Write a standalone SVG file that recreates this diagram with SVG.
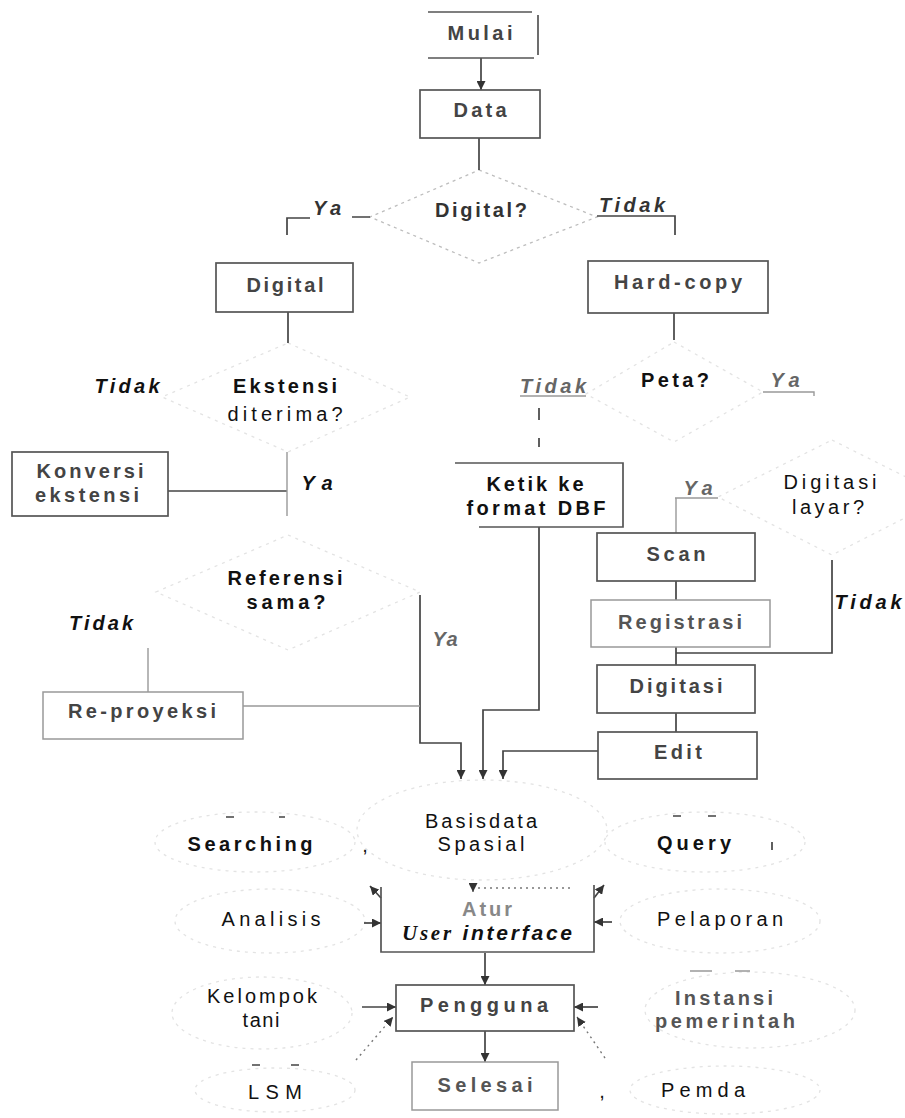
<svg xmlns="http://www.w3.org/2000/svg" width="905" height="1118" viewBox="0 0 905 1118">
<defs>
<style>
.box{fill:none;stroke:#555;stroke-width:1.7}
.boxl{fill:none;stroke:#999;stroke-width:1.5}
.ln{fill:none;stroke:#444;stroke-width:1.7}
.lnl{fill:none;stroke:#999;stroke-width:1.4}
.faint{fill:none;stroke:#e3e3e3;stroke-width:1.3;stroke-dasharray:3 5}
.faintd{fill:none;stroke:#bdbdbd;stroke-width:1.3;stroke-dasharray:3 4}
.dot{fill:none;stroke:#777;stroke-width:1.4;stroke-dasharray:2 4}
.t{font-family:"Liberation Sans",Arial,Helvetica,sans-serif;font-size:20px;text-anchor:middle}
.bx{font-weight:bold;fill:#444}
.lb{fill:#111}
.b{font-weight:bold;fill:#111}
.i{font-style:italic;font-weight:bold;fill:#111}
.ig{font-style:italic;font-weight:bold;fill:#666}
</style>
<marker id="arr" viewBox="0 0 10 10" refX="10" refY="5" markerWidth="9" markerHeight="9" markerUnits="userSpaceOnUse" orient="auto">
<path d="M0,0 L10,5 L0,10 z" fill="#333"/>
</marker>
</defs>
<rect width="905" height="1118" fill="#fff"/>

<g id="faint-shapes">
<polygon class="faintd" points="479,170 597,217 479,263 370,217"/>
<polygon class="faint" points="288,343 410,397 288,452 162,397"/>
<polygon class="faint" points="674,342 763,392 674,442 586,394"/>
<polygon class="faint" points="832,440 946,497 832,555 718,497"/>
<polygon class="faint" points="288,535 420,592 288,650 156,592"/>
<ellipse class="faint" cx="482" cy="830" rx="125" ry="50"/>
<ellipse class="faint" cx="255" cy="842" rx="100" ry="30"/>
<ellipse class="faint" cx="705" cy="842" rx="100" ry="30"/>
<ellipse class="faint" cx="270" cy="921" rx="95" ry="32"/>
<ellipse class="faint" cx="720" cy="921" rx="100" ry="32"/>
<ellipse class="faint" cx="262" cy="1013" rx="90" ry="36"/>
<ellipse class="faint" cx="750" cy="1010" rx="105" ry="38"/>
<ellipse class="faint" cx="275" cy="1090" rx="80" ry="22"/>
<ellipse class="faint" cx="725" cy="1090" rx="95" ry="24"/>
</g>

<g id="connectors">
<line class="ln" x1="481" y1="58" x2="481" y2="90" marker-end="url(#arr)"/>
<line class="ln" x1="479" y1="138" x2="479" y2="170"/>
<path class="ln" d="M287,235 V218 H310 M352,217 H370"/>
<path class="ln" d="M597,216 H675 V235"/>
<line class="ln" x1="288" y1="312" x2="288" y2="343"/>
<path class="ln" d="M168,491 H287"/>
<path class="lnl" d="M287,452 V516"/>
<line class="ln" x1="674" y1="313" x2="674" y2="340"/>
<path class="ln" d="M539,408 V420 M539,438 V447"/>
<path class="lnl" d="M676,498 V533"/>
<line class="ln" x1="676" y1="581" x2="676" y2="600"/>
<line class="ln" x1="676" y1="647" x2="676" y2="665"/>
<path class="ln" d="M832,560 V653 H676"/>
<line class="ln" x1="676" y1="713" x2="676" y2="732"/>
<path class="ln" d="M598,751 H503 V779" marker-end="url(#arr)"/>
<path class="ln" d="M539,527 V710 H483 V779" marker-end="url(#arr)"/>
<path class="ln" d="M420,595 V743 H461 V779" marker-end="url(#arr)"/>
<path class="lnl" d="M243,706 H420"/>
<path class="lnl" d="M148,648 V692"/>
<line class="ln" x1="485" y1="953" x2="485" y2="985" marker-end="url(#arr)"/>
<line class="ln" x1="485" y1="1031" x2="485" y2="1062" marker-end="url(#arr)"/>
<line class="ln" x1="381" y1="898" x2="370" y2="886" marker-end="url(#arr)"/>
<line class="ln" x1="364" y1="923" x2="381" y2="923" marker-end="url(#arr)"/>
<line class="ln" x1="594" y1="898" x2="604" y2="885" marker-end="url(#arr)"/>
<line class="ln" x1="612" y1="922" x2="594" y2="922" marker-end="url(#arr)"/>
<line class="ln" x1="362" y1="1007" x2="396" y2="1007" marker-end="url(#arr)"/>
<line class="dot" x1="356" y1="1060" x2="393" y2="1017" marker-end="url(#arr)"/>
<line class="ln" x1="598" y1="1007" x2="574" y2="1007" marker-end="url(#arr)"/>
<line class="dot" x1="605" y1="1058" x2="577" y2="1017" marker-end="url(#arr)"/>
<line class="dot" x1="473" y1="884" x2="473" y2="892" marker-end="url(#arr)"/>
</g>

<g id="mulai">
<path class="box" d="M428,12 H532 M538,15 V55 M428,58 H534"/>
<text class="t bx" x="480" y="40" textLength="65" lengthAdjust="spacing">Mulai</text>
</g>
<g id="data">
<rect class="box" x="420" y="90" width="120" height="48"/>
<text class="t bx" x="480" y="117" textLength="53" lengthAdjust="spacing">Data</text>
</g>
<g id="digital-q">
<text class="t" x="481" y="217" style="font-weight:bold;fill:#333" textLength="92" lengthAdjust="spacing">Digital?</text>
<text class="t" x="327" y="215" style="font-style:italic;font-weight:bold;fill:#333" textLength="28" lengthAdjust="spacing">Ya</text>
<text class="t" x="632" y="212" style="font-style:italic;font-weight:bold;fill:#333" textLength="66" lengthAdjust="spacing">Tidak</text>
</g>
<g id="digital">
<rect class="box" x="216" y="263" width="137" height="49"/>
<text class="t bx" x="285" y="292" textLength="77" lengthAdjust="spacing">Digital</text>
</g>
<g id="ekstensi-q">
<text class="t b" x="285" y="393" textLength="104" lengthAdjust="spacing">Ekstensi</text>
<text class="t lb" x="285" y="421" textLength="115" lengthAdjust="spacing">diterima?</text>
<text class="t i" x="127" y="393" textLength="65" lengthAdjust="spacing">Tidak</text>
<text class="t i" x="317" y="490" textLength="31" lengthAdjust="spacing">Ya</text>
</g>
<g id="konversi">
<rect class="box" x="12" y="452" width="156" height="64"/>
<text class="t bx" x="90" y="478" textLength="107" lengthAdjust="spacing">Konversi</text>
<text class="t bx" x="87" y="502" textLength="104" lengthAdjust="spacing">ekstensi</text>
</g>
<g id="hardcopy">
<rect class="box" x="588" y="261" width="180" height="52"/>
<text class="t bx" x="678" y="289" textLength="128" lengthAdjust="spacing">Hard-copy</text>
</g>
<g id="peta-q">
<text class="t b" x="675" y="387" textLength="68" lengthAdjust="spacing">Peta?</text>
<text class="t ig" x="553" y="393" textLength="66" lengthAdjust="spacing">Tidak</text>
<path class="lnl" d="M520,396 H586"/>
<text class="t ig" x="785" y="387" textLength="29" lengthAdjust="spacing">Ya</text>
<path class="lnl" d="M763,392 H814 V396"/>
</g>
<g id="ketik">
<path class="box" d="M455,463 H623 V527 H479"/>
<text class="t b" x="535" y="491" textLength="97" lengthAdjust="spacing">Ketik ke</text>
<text class="t b" x="536" y="515" textLength="139" lengthAdjust="spacing">format DBF</text>
</g>
<g id="layar-q">
<text class="t lb" x="830" y="489" textLength="93" lengthAdjust="spacing">Digitasi</text>
<text class="t lb" x="828" y="514" textLength="72" lengthAdjust="spacing">layar?</text>
<text class="t ig" x="698" y="495" textLength="29" lengthAdjust="spacing">Ya</text>
<path class="lnl" d="M675,498 H718"/>
<text class="t i" x="868" y="609" textLength="67" lengthAdjust="spacing">Tidak</text>
</g>
<g id="scan">
<rect class="box" x="597" y="533" width="158" height="48"/>
<text class="t bx" x="676" y="561" textLength="59" lengthAdjust="spacing">Scan</text>
</g>
<g id="registrasi">
<rect class="boxl" x="591" y="600" width="179" height="47"/>
<text class="t" x="680" y="629" style="font-weight:bold;fill:#555" textLength="124" lengthAdjust="spacing">Registrasi</text>
</g>
<g id="digitasi">
<rect class="box" x="597" y="665" width="158" height="48"/>
<text class="t bx" x="676" y="693" textLength="93" lengthAdjust="spacing">Digitasi</text>
</g>
<g id="edit">
<rect class="box" x="598" y="732" width="159" height="47"/>
<text class="t bx" x="678" y="759" textLength="48" lengthAdjust="spacing">Edit</text>
</g>
<g id="referensi-q">
<text class="t b" x="285" y="585" textLength="115" lengthAdjust="spacing">Referensi</text>
<text class="t b" x="286" y="609" textLength="79" lengthAdjust="spacing">sama?</text>
<text class="t i" x="101" y="630" textLength="64" lengthAdjust="spacing">Tidak</text>
<text class="t ig" x="445" y="646" textLength="25" lengthAdjust="spacing">Ya</text>
</g>
<g id="reproyeksi">
<rect class="boxl" x="43" y="692" width="200" height="47"/>
<text class="t bx" x="142" y="718" textLength="148" lengthAdjust="spacing">Re-proyeksi</text>
</g>
<g id="basisdata">
<text class="t lb" x="481" y="828" textLength="112" lengthAdjust="spacing">Basisdata</text>
<text class="t lb" x="481" y="851" textLength="87" lengthAdjust="spacing">Spasial</text>
</g>
<g id="searching">
<text class="t b" x="250" y="851" textLength="125" lengthAdjust="spacing">Searching</text>
<path class="ln" d="M226,817 H234 M279,817 H285"/>
<text class="t lb" x="365" y="852">,</text>
</g>
<g id="query">
<text class="t b" x="694" y="850" textLength="74" lengthAdjust="spacing">Query</text>
<path class="ln" d="M673,816 H681 M708,816 H716"/>
<path class="ln" d="M772,842 V850"/>
</g>
<g id="analisis">
<text class="t lb" x="271" y="926" textLength="99" lengthAdjust="spacing">Analisis</text>
</g>
<g id="pelaporan">
<text class="t lb" x="720" y="926" textLength="126" lengthAdjust="spacing">Pelaporan</text>
</g>
<g id="atur">
<path class="box" d="M381,887 V952 H594 V885"/>
<path class="dot" d="M478,888 H570"/>
<text class="t" x="487" y="916" style="font-weight:bold;fill:#888" textLength="50" lengthAdjust="spacing">Atur</text>
<text class="t" x="487" y="940" style="fill:#111;font-size:21px" textLength="170" lengthAdjust="spacing"><tspan font-family="'Liberation Serif',serif" font-style="italic" font-weight="bold">User</tspan><tspan font-style="italic" font-weight="bold"> interface</tspan></text>
</g>
<g id="pengguna">
<rect class="box" x="396" y="985" width="178" height="46"/>
<text class="t bx" x="484" y="1012" textLength="128" lengthAdjust="spacing">Pengguna</text>
</g>
<g id="selesai">
<rect class="boxl" x="412" y="1062" width="146" height="48"/>
<text class="t" x="485" y="1092" style="font-weight:bold;fill:#555" textLength="95" lengthAdjust="spacing">Selesai</text>
</g>
<g id="kelompok">
<text class="t lb" x="262" y="1003" textLength="110" lengthAdjust="spacing">Kelompok</text>
<text class="t lb" x="261" y="1027" textLength="37" lengthAdjust="spacing">tani</text>
</g>
<g id="lsm">
<path class="ln" d="M252,1065 H260 M291,1065 H299"/>
<text class="t lb" x="275" y="1099" textLength="54" lengthAdjust="spacing">LSM</text>
</g>
<g id="instansi">
<path class="lnl" d="M690,971 H712 M735,971 H750"/>
<text class="t" x="724" y="1005" style="font-weight:bold;fill:#555" textLength="98" lengthAdjust="spacing">Instansi</text>
<text class="t" x="725" y="1028" style="font-weight:bold;fill:#555" textLength="140" lengthAdjust="spacing">pemerintah</text>
</g>
<g id="pemda">
<text class="t lb" x="703" y="1097" textLength="84" lengthAdjust="spacing">Pemda</text>
<text class="t lb" x="602" y="1098">,</text>
</g>
</svg>
